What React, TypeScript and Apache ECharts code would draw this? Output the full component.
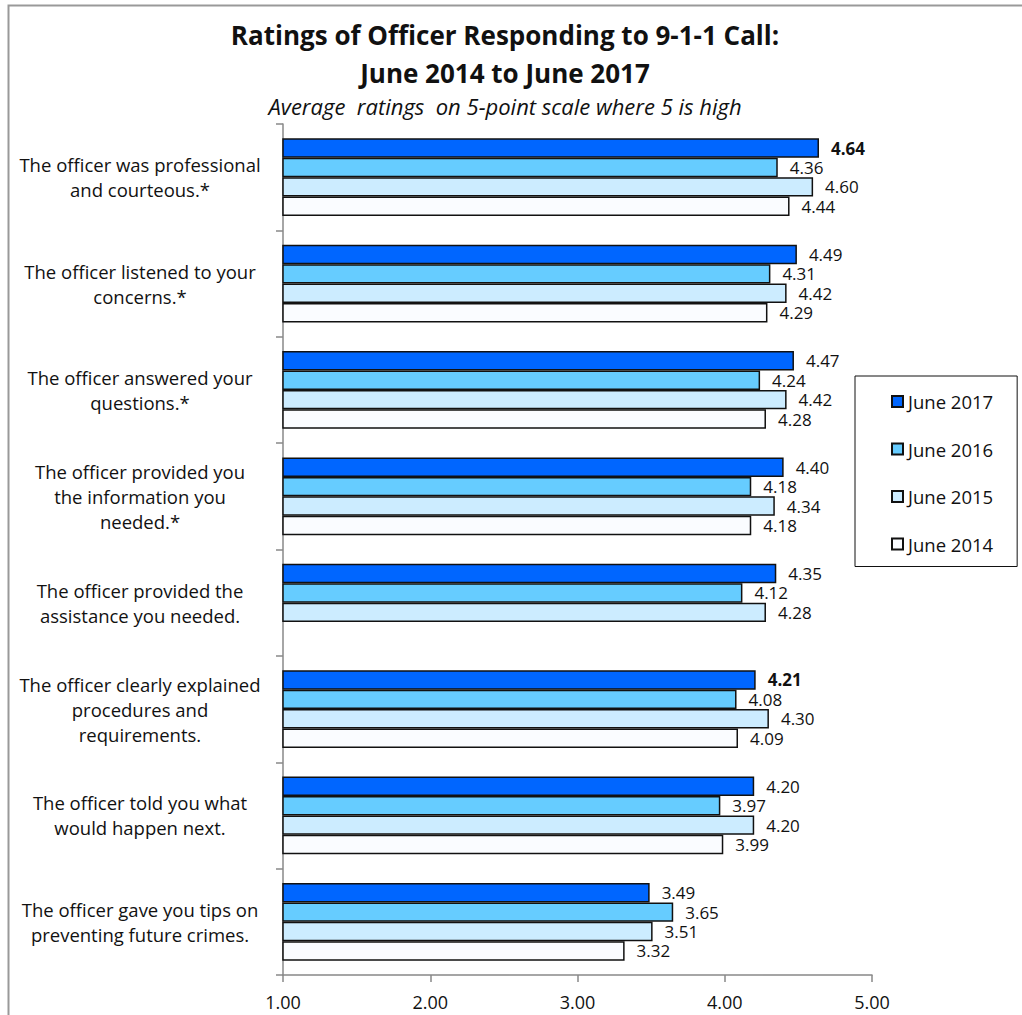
import React, { useEffect, useRef } from "react";
import * as echarts from "echarts";

const categories = [
  "The officer was professional\nand courteous.*",
  "The officer listened to your\nconcerns.*",
  "The officer answered your\nquestions.*",
  "The officer provided you\nthe information you\nneeded.*",
  "The officer provided the\nassistance you needed.",
  "The officer clearly explained\nprocedures and\nrequirements.",
  "The officer told you what\nwould happen next.",
  "The officer gave you tips on\npreventing future crimes.",
];
const seriesNames = ["June 2017", "June 2016", "June 2015", "June 2014"];
const june2017 = [4.64, 4.49, 4.47, 4.4, 4.35, 4.21, 4.2, 3.49];
const june2016 = [4.36, 4.31, 4.24, 4.18, 4.12, 4.08, 3.97, 3.65];
const june2015 = [4.6, 4.42, 4.42, 4.34, 4.28, 4.3, 4.2, 3.51];
const june2014 = [4.44, 4.29, 4.28, 4.18, null, 4.09, 3.99, 3.32];
const boldLabels2017 = [0, 5];
const colors = ["#0066FF", "#66CCFF", "#CCECFF", "#FAFCFF"];
const xTicks = [1, 2, 3, 4, 5];

const FONT = "Open Sans";

export default function App() {
  const ref = useRef<HTMLDivElement>(null);
  useEffect(() => {
    const chart = echarts.init(ref.current!, null, { renderer: "svg" });
    const allData = [june2017, june2016, june2015, june2014];
    const series = allData.map((arr, si) => ({
      type: "bar",
      name: seriesNames[si],
      barGap: "0%",
      barCategoryGap: "27%",
      itemStyle: { color: colors[si], borderColor: "#111", borderWidth: 1.5 },
      label: {
        show: true,
        position: "right",
        distance: 12,
        fontFamily: FONT,
        fontSize: 17,
        color: "#111",
        formatter: (p: any) => (p.value == null ? "" : Number(p.value).toFixed(2)),
      },
      data: arr.map((v, i) =>
        v == null
          ? "-"
          : si === 0 && boldLabels2017.includes(i)
          ? { value: v, label: { fontWeight: "bold" } }
          : v
      ),
    }));
    chart.setOption({
      animation: false,
      backgroundColor: "#fff",
      textStyle: { fontFamily: FONT },
      graphic: [
        {
          type: "rect",
          shape: { x: 8.5, y: 5.5, width: 1100, height: 1100 },
          style: { fill: "none", stroke: "#999", lineWidth: 2 },
          silent: true,
        },
      ],
      title: [
        {
          text: "Ratings of Officer Responding to 9-1-1 Call:\nJune 2014 to June 2017",
          left: 500,
          top: 11,
          textAlign: "center",
          textStyle: { fontFamily: FONT, fontSize: 26, fontWeight: "bold", color: "#111", lineHeight: 38 },
        },
        {
          text: "Average  ratings  on 5-point scale where 5 is high",
          left: 500,
          top: 90,
          textAlign: "center",
          textStyle: { fontFamily: FONT, fontSize: 22, fontStyle: "italic", fontWeight: "normal", color: "#111" },
        },
      ],
      legend: {
        orient: "vertical",
        left: 855,
        top: 376,
        padding: [16, 24, 13, 36],
        itemGap: 28.5,
        itemWidth: 11,
        itemHeight: 11,
        icon: "rect",
        borderColor: "#111",
        borderWidth: 1,
        textStyle: { fontFamily: FONT, fontSize: 18.5, color: "#111" },
        data: seriesNames,
      },
      grid: { left: 283, right: 150, top: 124, bottom: 40, containLabel: false },
      xAxis: {
        type: "value",
        min: 1,
        max: 5,
        interval: 1,
        axisLine: { show: true, lineStyle: { color: "#888", width: 1.5 } },
        axisTick: { show: true, length: 7, lineStyle: { color: "#888", width: 1.5 } },
        splitLine: { show: false },
        axisLabel: {
          margin: 18,
          fontFamily: FONT,
          fontSize: 18,
          color: "#111",
          formatter: (v: number) => (xTicks.includes(v) ? v.toFixed(2) : ""),
        },
      },
      yAxis: {
        type: "category",
        inverse: true,
        data: categories,
        axisLine: { show: true, lineStyle: { color: "#888", width: 1.5 } },
        axisTick: { show: true, length: 7, lineStyle: { color: "#888", width: 1.5 } },
        axisLabel: {
          margin: 143,
          align: "center",
          fontFamily: FONT,
          fontSize: 18.5,
          lineHeight: 25,
          color: "#111",
        },
      },
      series,
    });
    return () => chart.dispose();
  }, []);
  return (
    <div
      ref={ref}
      style={{ position: "fixed", left: 0, top: 0, width: 1022, height: 1015 }}
    />
  );
}
